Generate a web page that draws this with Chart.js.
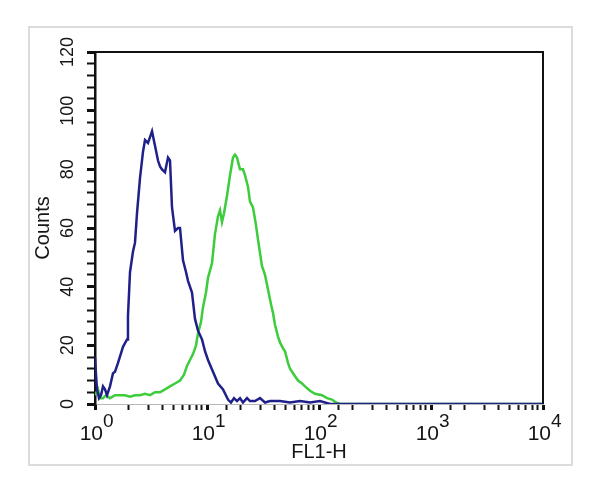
<!DOCTYPE html>
<html>
<head>
<meta charset="utf-8">
<script src="https://cdn.jsdelivr.net/npm/chart.js@4"></script>
<style>
  html, body { margin: 0; padding: 0; background: #fff; }
  canvas { display: block; }
</style>
</head>
<body>
<canvas id="histo" width="600" height="492"></canvas>
<script>
// FL1-H histogram, isotype control (blue) vs stained sample (green)

var isoFL1 = [1.00, 1.021, 1.042, 1.086, 1.131, 1.179, 1.228, 1.280, 1.361, 1.448, 1.509, 1.605, 1.778, 1.931, 1.970,
  2.054, 2.184, 2.276, 2.371, 2.522, 2.683, 2.796, 2.973, 3.098, 3.228, 3.434, 3.652, 3.805, 3.966, 4.217,
  4.485, 4.674, 4.870, 5.179, 5.510, 5.741, 6.105, 6.494, 6.767, 7.346, 7.813, 8.311, 9.024, 9.597, 10.21,
  11.31, 12.54, 13.90, 15.40, 16.38, 17.42, 18.53, 19.70, 20.96, 22.76, 24.20, 26.83, 29.73, 32.96, 36.52,
  44.85, 55.10, 67.67, 83.11, 102.1, 125.4, 10000];
var isoCounts = [16, 10, 5, 2, 3, 6, 5, 3, 6, 10.5, 11, 14, 19.5, 22, 30,
  45, 52, 55, 65, 77, 86, 90, 89, 91, 93, 88, 83, 81, 80, 79,
  84, 83, 67, 59, 60, 60, 49, 45, 42, 38, 29, 25, 22, 18, 15,
  11, 7, 5, 1.5, 0.5, 2, 1, 2, 0.5, 2, 1, 1, 2, 0.5, 1,
  1, 0.5, 1, 0.5, 1, 0, 0];

var sampleFL1 = [1.00, 1.064, 1.108, 1.179, 1.254, 1.361, 1.509, 1.672, 1.853, 2.054, 2.276, 2.522, 2.796, 3.098,
  3.434, 3.805, 4.217, 4.674, 5.179, 5.741, 6.233, 6.628, 7.050, 7.499, 7.976, 8.311, 8.842, 9.211, 9.797,
  10.21, 11.08, 11.79, 12.54, 13.07, 13.61, 14.19, 15.09, 16.05, 17.07, 17.78, 18.53, 19.70, 20.96, 21.84,
  23.24, 24.20, 25.75, 27.38, 28.54, 30.98, 32.96, 35.05, 37.28, 38.85, 40.47, 43.05, 44.85, 47.71, 49.72,
  52.88, 55.10, 58.62, 64.94, 70.50, 74.99, 83.11, 92.11, 106.4, 117.9, 130.7, 141.9, 154.0, 10000];
var sampleCounts = [3, 5, 2, 2, 3, 2, 3, 3, 3, 2.5, 3, 3, 3.5, 3,
  4, 4, 5, 6, 7, 8, 10, 13, 15, 17, 20, 24, 28, 33, 38,
  43, 48, 58, 64, 66, 62, 65, 71, 78, 84, 85, 84, 80, 80, 78,
  74, 69, 67, 61, 56, 47, 44, 39, 34, 31, 27, 23, 21, 19, 18,
  14, 12, 10.5, 8, 7, 6, 4.5, 3.5, 3, 2, 1.5, 0.5, 0, 0];

var xDecades = [1, 10, 100, 1000, 10000];
var xDecadeExps = ['0', '1', '2', '3', '4'];

function toPoints(xs, ys) {
  var pts = [];
  for (var i = 0; i < xs.length; i++) pts.push({x: xs[i], y: ys[i]});
  return pts;
}

var FONT = 'Liberation Sans, Arial, sans-serif';

// white page, light grey frame, top/right box lines
var framePlugin = {
  id: 'frame',
  beforeDraw: function(chart) {
    var c = chart.ctx;
    c.save();
    c.fillStyle = '#fff';
    c.fillRect(0, 0, chart.width, chart.height);
    c.strokeStyle = '#dcdcdc';
    c.lineWidth = 2;
    c.strokeRect(29, 27, 543, 438);
    c.restore();
  },
  afterDraw: function(chart) {
    var a = chart.chartArea, c = chart.ctx;
    c.save();
    c.strokeStyle = '#111';
    c.lineWidth = 2;
    c.beginPath();
    c.moveTo(a.left, a.top);
    c.lineTo(a.right, a.top);
    c.lineTo(a.right, a.bottom);
    c.stroke();
    c.restore();
  }
};

// 10^n labels with raised exponent
var decadeLabels = {
  id: 'decadeLabels',
  afterDraw: function(chart) {
    var sx = chart.scales.x, c = chart.ctx;
    c.save();
    c.fillStyle = '#151515';
    c.textBaseline = 'alphabetic';
    for (var i = 0; i < xDecades.length; i++) {
      var px = sx.getPixelForValue(xDecades[i]);
      c.font = '21px ' + FONT;
      c.textAlign = 'right';
      c.fillText('10', px + 8, 440);
      c.font = '19px ' + FONT;
      c.textAlign = 'left';
      c.fillText(xDecadeExps[i], px + 8, 427);
    }
    c.restore();
  }
};

var ctx = document.getElementById('histo').getContext('2d');
var histo = new Chart(ctx, {
  type: 'line',
  data: {
    datasets: [{
      label: 'Isotype',
      data: toPoints(isoFL1, isoCounts),
      borderColor: '#20208a',
      borderWidth: 2.5,
      pointRadius: 0,
      tension: 0,
      fill: false
    }, {
      label: 'Sample',
      data: toPoints(sampleFL1, sampleCounts),
      borderColor: '#3ccc3c',
      borderWidth: 2.5,
      pointRadius: 0,
      tension: 0,
      fill: false
    }]
  },
  options: {
    responsive: false,
    animation: false,
    devicePixelRatio: 1,
    layout: { padding: { left: 28, top: 52, right: 57, bottom: 0 } },
    plugins: {
      legend: { display: false },
      tooltip: { enabled: false }
    },
    scales: {
      x: {
        type: 'logarithmic',
        min: 1,
        max: 10000,
        afterFit: function(scale) { scale.height = 88; },
        border: { color: '#b8b8b8', width: 1 },
        grid: {
          drawOnChartArea: false, tickLength: 6, tickColor: '#111',
          tickWidth: function(c) { return c.tick && xDecades.indexOf(c.tick.value) >= 0 ? 3 : 2; }
        },
        ticks: { autoSkip: false, maxRotation: 0, callback: function() { return ''; } },
        title: { display: true, text: 'FL1-H', color: '#151515', font: { family: FONT, size: 20 }, padding: { top: 0, bottom: 28 } }
      },
      y: {
        min: 0,
        max: 120,
        afterFit: function(scale) { scale.width = 67; },
        border: { color: '#111', width: 2.5 },
        grid: {
          drawOnChartArea: false, tickLength: 8, tickColor: '#111',
          tickWidth: function(c) { return c.tick && c.tick.value % 20 === 0 ? 3 : 2; }
        },
        ticks: {
          stepSize: 4,
          autoSkip: false,
          minRotation: 90,
          maxRotation: 90,
          crossAlign: 'center',
          padding: 4,
          color: '#151515',
          font: { family: FONT, size: 18 },
          callback: function(v) { return v % 20 === 0 ? String(v) : ''; }
        },
        title: { display: true, text: 'Counts', color: '#151515', font: { family: FONT, size: 20 }, padding: { top: 3, bottom: 0 } }
      }
    }
  },
  plugins: [framePlugin, decadeLabels]
});
</script>
</body>
</html>
